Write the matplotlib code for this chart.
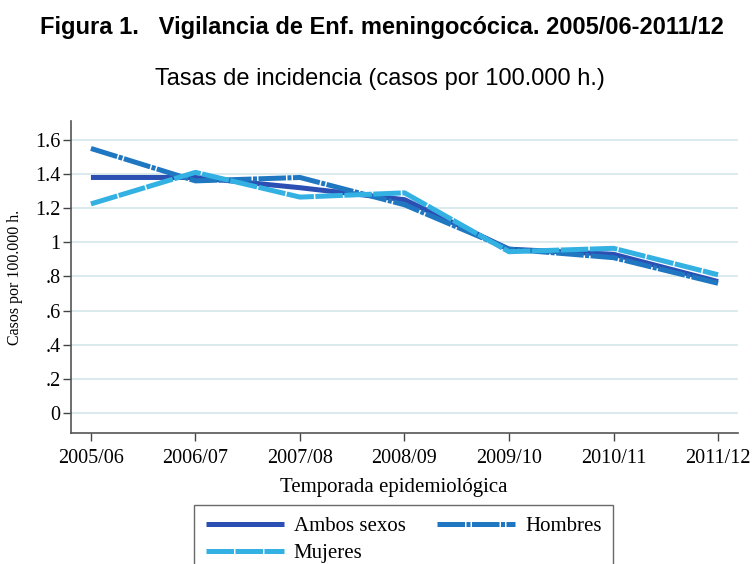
import numpy as np
import matplotlib
matplotlib.use("Agg")
import matplotlib.pyplot as plt

# temporadas y tasas por 100.000 h.
temporadas = ["2005/06", "2006/07", "2007/08", "2008/09", "2009/10", "2010/11", "2011/12"]
ambos = [1.38, 1.38, 1.32, 1.25, 0.96, 0.93, 0.77]
hombres = [1.55, 1.36, 1.38, 1.22, 0.96, 0.91, 0.76]
mujeres = [1.225, 1.41, 1.265, 1.29, 0.945, 0.965, 0.81]
yticks = [0, 0.2, 0.4, 0.6, 0.8, 1.0, 1.2, 1.4, 1.6]
ytick_labels = ["0", ".2", ".4", ".6", ".8", "1", "1.2", "1.4", "1.6"]

serif = ["Liberation Serif", "DejaVu Serif"]
sans = ["Liberation Sans", "DejaVu Sans"]

fig = plt.figure(figsize=(7.55, 5.64), dpi=100)
ax = fig.add_axes([0.094, 0.2323, 0.8835, 0.5532])

x = np.arange(len(temporadas))
lw = 3.6
ax.plot(x, ambos, color="#2b4fb2", lw=lw, solid_capstyle="butt",
        label="Ambos sexos", zorder=3)
ax.plot(x, hombres, color="#1f77c2", lw=lw, dashes=(5.5, 0.3, 0.8, 0.3),
        dash_capstyle="butt", label="Hombres", zorder=3)
ax.plot(x, mujeres, color="#33b1e2", lw=lw, dashes=(5.5, 0.3),
        dash_capstyle="butt", label="Mujeres", zorder=4)

ax.set_xlim(-0.191, 6.191)
ax.set_ylim(-0.117, 1.711)
ax.set_xticks(x)
ax.set_xticklabels(temporadas, family=serif, fontsize=14.5)
ax.set_yticks(yticks)
ax.set_yticklabels(ytick_labels, family=serif, fontsize=14.5)
ax.grid(axis="y", color="#d8e8ea", lw=1.3, zorder=0)
ax.tick_params(length=5.5, width=1, color="#444444")
ax.tick_params(axis="x", pad=6)
ax.tick_params(axis="y", pad=2)

for s in ["top", "right"]:
    ax.spines[s].set_visible(False)
for s in ["left", "bottom"]:
    ax.spines[s].set_color("#555555")
    ax.spines[s].set_linewidth(1.2)

ax.set_xlabel("Temporada epidemiológica", family=serif, fontsize=15)
ax.xaxis.set_label_coords((394 - 71) / 667, -(488 - 433) / 312, transform=ax.transAxes)
ax.xaxis.label.set_va("center")
ax.set_ylabel("Casos por 100.000 h.", family=serif, fontsize=11.5)
ax.yaxis.set_label_coords(-(71 - 15) / 667, (433 - 277) / 312, transform=ax.transAxes)
ax.yaxis.label.set_va("center")

fig.text(0.5055, 0.952, "Figura 1.   Vigilancia de Enf. meningocócica. 2005/06-2011/12",
         ha="center", va="center", family=sans, fontweight="bold", fontsize=17)
fig.text(0.5035, 0.86, "Tasas de incidencia (casos por 100.000 h.)",
         ha="center", va="center", family=sans, fontsize=17)

handles, labels = ax.get_legend_handles_labels()
order = [0, 2, 1]
leg = fig.legend([handles[i] for i in order], [labels[i] for i in order],
                 loc="upper center", bbox_to_anchor=(0.5345, 1 - 505 / 564),
                 ncol=2, frameon=True, fancybox=False, handlelength=3.75,
                 columnspacing=1.5, handletextpad=0.48, borderpad=0.55,
                 borderaxespad=0, labelspacing=0.35,
                 prop={"family": serif, "size": 15})
leg.get_frame().set_edgecolor("#444444")
leg.get_frame().set_linewidth(1.0)

fig.savefig("out.png", dpi=100)
